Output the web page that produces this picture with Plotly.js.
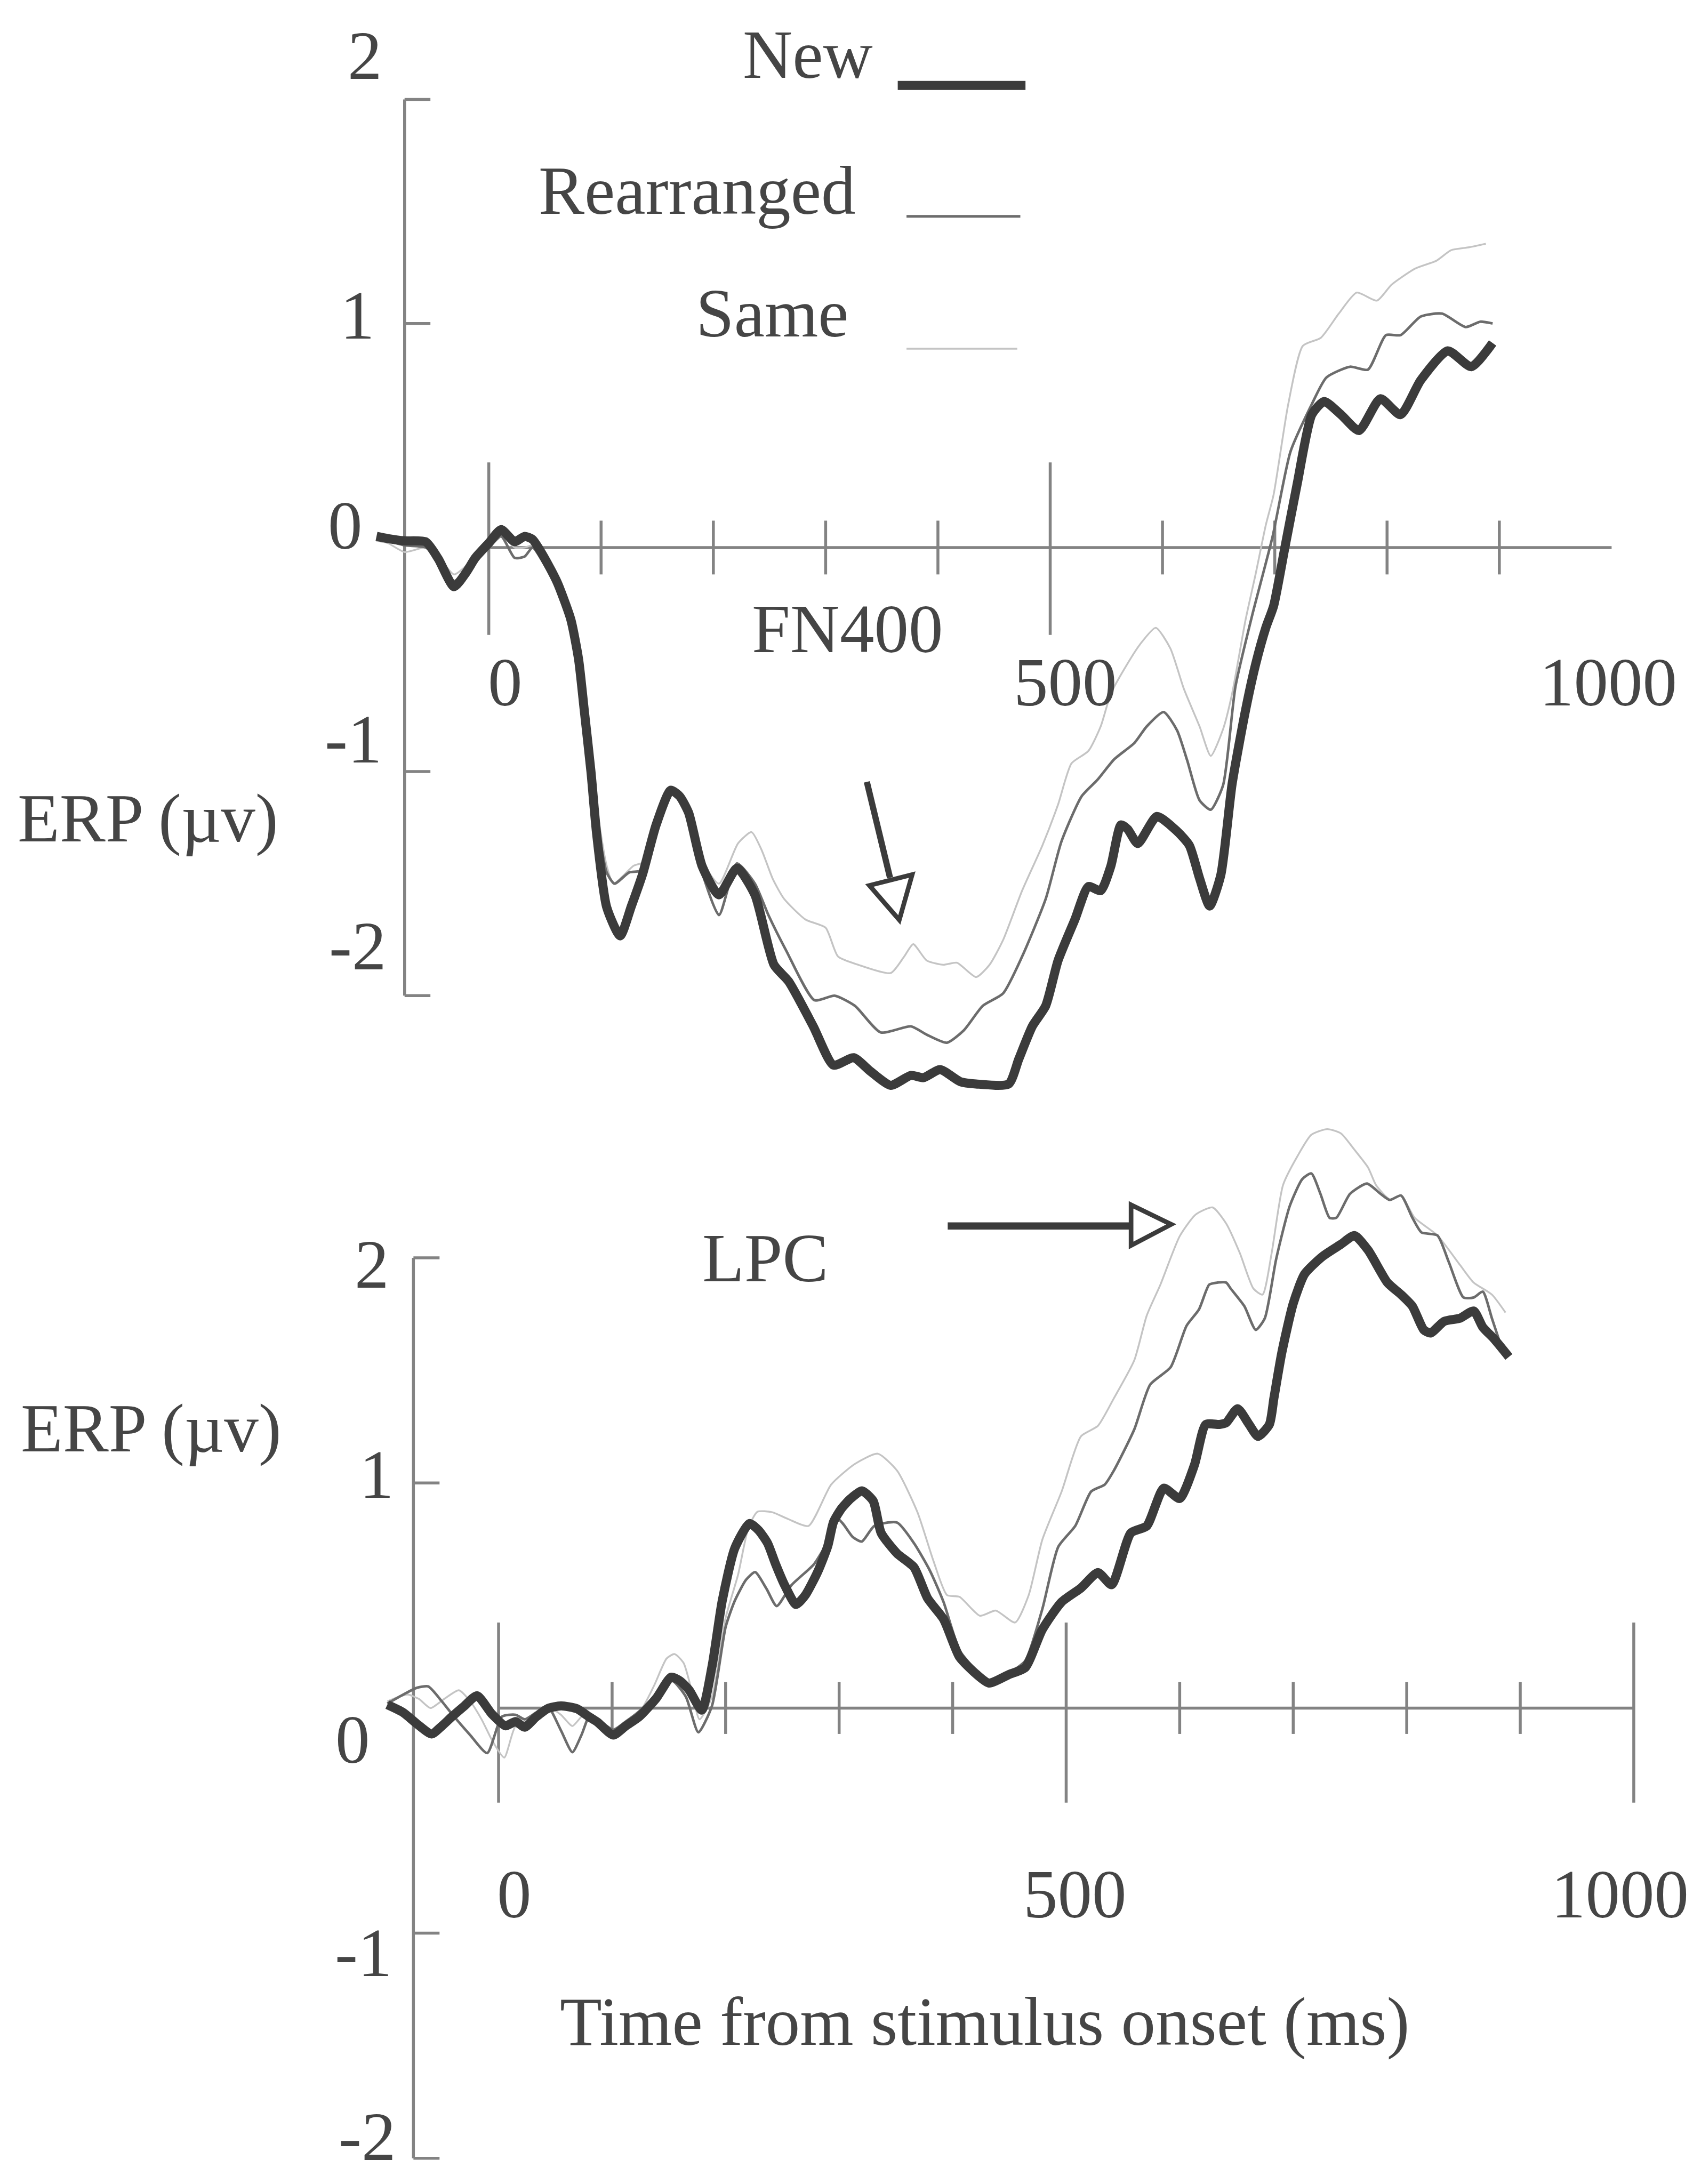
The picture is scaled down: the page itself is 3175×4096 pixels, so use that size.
<!DOCTYPE html>
<html>
<head>
<meta charset="utf-8">
<script src="https://cdn.plot.ly/plotly-3.0.1.min.js"></script>
<style>
  html, body { margin: 0; padding: 0; background: #ffffff; }
  #chart { width: 3175px; height: 4096px; }
</style>
</head>
<body>
<div id="chart"></div>
<script>
// ---------------- DATA (time in ms, ERP in microvolts) ----------------
// Upper panel (FN400)
const topNewT  = [-100,-90,-75,-56,-45,-31,-20,-12,0,11,23,32,39,50,61,73,80,85,91,96,105,117,127,137,149,162,170,178,190,205,221,237,254,267,289,307,325,340,358,376,387,402,420,434,463,472,484,496,507,522,534,545,554,563,569,578,595,613,624,633,642,652,662,674,683,692,699,709,720,733,744,759,775,794,812,830,854,875,894];
const topNewV  = [0.05,0.04,0.03,0.025,-0.05,-0.175,-0.11,-0.046,0.02,0.08,0.026,0.05,0.036,-0.05,-0.156,-0.32,-0.5,-0.725,-1.0,-1.275,-1.605,-1.733,-1.6,-1.457,-1.238,-1.083,-1.11,-1.184,-1.422,-1.55,-1.431,-1.55,-1.862,-1.936,-2.137,-2.31,-2.277,-2.338,-2.40,-2.356,-2.366,-2.33,-2.384,-2.394,-2.394,-2.283,-2.137,-2.045,-1.843,-1.66,-1.513,-1.531,-1.422,-1.238,-1.257,-1.321,-1.20,-1.266,-1.33,-1.476,-1.60,-1.46,-1.055,-0.725,-0.52,-0.358,-0.26,0.0,0.285,0.593,0.652,0.593,0.522,0.664,0.593,0.747,0.878,0.807,0.913];

const topRearT = [-100,-90,-75,-56,-45,-31,-20,-12,0,11,23,32,39,50,61,73,85,96,105,112,125,137,149,162,178,190,205,221,237,249,265,290,308,326,349,376,390,408,423,440,458,475,496,510,528,542,557,575,586,601,613,622,633,643,654,665,680,698,714,733,746,767,783,799,812,830,849,870,883,894];
const topRearV = [0.04,0.03,0.01,0.0,-0.06,-0.15,-0.1,-0.05,0.0,0.05,-0.046,-0.04,0.0,-0.08,-0.18,-0.34,-0.72,-1.2,-1.45,-1.5,-1.45,-1.44,-1.238,-1.083,-1.2,-1.45,-1.64,-1.41,-1.5,-1.64,-1.8,-2.02,-2.0,-2.045,-2.164,-2.137,-2.174,-2.21,-2.155,-2.045,-1.99,-1.825,-1.568,-1.312,-1.11,-1.037,-0.945,-0.872,-0.798,-0.734,-0.816,-0.95,-1.128,-1.17,-1.06,-0.62,-0.30,0.048,0.428,0.64,0.759,0.807,0.794,0.948,0.948,1.031,1.044,0.984,1.008,1.0];

const topSameT = [-100,-90,-75,-56,-45,-31,-20,-12,0,11,23,32,39,50,61,73,85,96,105,111,129,140,149,162,178,190,205,222,234,243,253,263,282,300,311,329,358,370,378,390,405,417,434,446,458,475,493,507,519,534,545,554,566,580,594,607,619,633,643,654,662,674,683,692,699,712,725,741,757,773,791,804,825,844,857,873,888];
const topSameV = [0.03,0.02,-0.02,0.0,-0.04,-0.12,-0.08,-0.03,0.01,0.06,0.0,0.0,0.01,-0.07,-0.17,-0.33,-0.7,-1.15,-1.42,-1.5,-1.42,-1.4,-1.25,-1.09,-1.2,-1.4,-1.5,-1.32,-1.27,-1.35,-1.48,-1.568,-1.66,-1.697,-1.825,-1.862,-1.899,-1.825,-1.77,-1.843,-1.862,-1.853,-1.917,-1.862,-1.752,-1.531,-1.33,-1.147,-0.963,-0.908,-0.798,-0.652,-0.542,-0.432,-0.358,-0.45,-0.63,-0.798,-0.93,-0.81,-0.652,-0.322,-0.117,0.10,0.237,0.64,0.90,0.936,1.044,1.138,1.102,1.173,1.245,1.28,1.327,1.34,1.356];

// Lower panel (LPC)
const botNewT  = [-98,-84,-72,-59,-50,-41,-30,-19,-6,6,15,23,33,43,55,69,80,87,101,112,124,139,152,160,168,179,188,197,208,221,229,237,244,252,262,270,281,290,295,302,310,320,330,337,351,366,378,392,406,421,432,450,464,479,496,513,528,540,557,571,586,600,613,623,635,641,651,661,669,679,683,690,700,710,726,742,754,766,783,795,805,815,821,833,847,859,867,877,890];
const botNewV  = [0.015,-0.02,-0.07,-0.115,-0.08,-0.038,0.01,0.055,-0.026,-0.079,-0.06,-0.085,-0.04,-0.003,0.01,-0.003,-0.04,-0.062,-0.12,-0.08,-0.038,0.044,0.137,0.12,0.079,-0.009,0.184,0.476,0.709,0.82,0.79,0.732,0.64,0.546,0.46,0.5,0.604,0.72,0.826,0.886,0.93,0.965,0.92,0.778,0.687,0.625,0.487,0.395,0.227,0.15,0.111,0.15,0.18,0.349,0.471,0.533,0.602,0.548,0.778,0.809,0.977,0.931,1.08,1.26,1.26,1.268,1.33,1.261,1.207,1.26,1.377,1.58,1.797,1.928,2.007,2.06,2.099,2.034,1.89,1.837,1.785,1.68,1.666,1.718,1.732,1.764,1.692,1.64,1.56];

const botRearT = [-98,-84,-72,-62,-50,-41,-25,-10,3,15,23,33,43,55,65,73,81,90,101,112,124,139,153,165,176,188,200,208,218,226,236,245,258,278,290,299,304,312,320,331,351,366,380,392,406,421,432,450,464,479,493,508,522,534,542,560,574,592,606,617,626,633,641,645,657,667,675,685,697,708,716,724,732,738,750,765,777,785,795,805,813,827,837,850,859,867,875,883];
const botRearV = [0.02,0.06,0.09,0.096,0.03,-0.027,-0.12,-0.2,-0.038,-0.03,-0.05,-0.02,0.01,-0.1,-0.196,-0.12,-0.027,-0.06,-0.096,-0.06,-0.014,0.06,0.12,0.05,-0.108,0.01,0.36,0.476,0.57,0.604,0.53,0.453,0.546,0.64,0.74,0.84,0.815,0.76,0.74,0.809,0.824,0.732,0.61,0.471,0.257,0.165,0.119,0.157,0.21,0.44,0.716,0.809,0.962,0.993,1.055,1.238,1.437,1.514,1.698,1.771,1.881,1.89,1.89,1.863,1.785,1.68,1.732,1.995,2.231,2.35,2.375,2.284,2.178,2.178,2.284,2.33,2.284,2.257,2.277,2.178,2.113,2.1,1.982,1.824,1.824,1.85,1.732,1.61];

const botSameT = [-98,-88,-80,-70,-60,-48,-35,-25,-15,-5,5,15,30,45,55,65,75,85,101,124,137,148,155,163,170,177,188,200,211,220,228,241,255,273,293,314,334,351,369,383,395,406,424,438,455,467,479,496,513,528,542,560,571,583,600,614,629,641,653,665,673,681,691,704,716,730,742,754,766,773,785,795,807,827,847,859,875,887];
const botSameV = [0.03,0.05,0.06,0.04,0.0,0.04,0.079,0.03,-0.05,-0.15,-0.22,-0.08,-0.05,0.0,-0.03,-0.08,-0.03,-0.05,-0.1,-0.02,0.1,0.22,0.24,0.2,0.08,-0.05,0.05,0.4,0.593,0.8,0.872,0.87,0.84,0.809,0.993,1.085,1.13,1.055,0.87,0.655,0.502,0.494,0.41,0.433,0.38,0.502,0.748,0.962,1.207,1.254,1.376,1.545,1.744,1.881,2.096,2.192,2.224,2.152,2.021,1.863,1.837,2.021,2.323,2.454,2.547,2.572,2.553,2.48,2.401,2.323,2.26,2.277,2.178,2.1,1.968,1.89,1.837,1.757];

// Ticks and labels
const xTickVals  = [0, 500, 1000];
const xTickText  = ['0', '500', '1000'];
const xMinorVals = [100, 200, 300, 400, 600, 700, 800, 900];
const yTickVals  = [2, 1, 0, -1, -2];
const yTickText  = ['2', '1', '0', '-1', '-2'];
const seriesNames = ['New', 'Rearranged', 'Same'];
const yTitle = 'ERP (\u00b5v)';
const xTitle = 'Time from stimulus onset (ms)';
const topMarker = 'FN400';
const botMarker = 'LPC';

// ---------------- LAYOUT / STYLE ----------------
const REF_W = 3287, REF_H = 4240;       // reference pixel frame
const W = 3175, H = 4096;
const K = W / REF_W;                   // ~0.966
const SPLIT = 2140;                    // reference y where panels meet
const CAL = {                          // reference-pixel calibration of each panel
  top: { x0: 949, sx: 2.18,  y0: 1063, sy: 435 },
  bot: { x0: 968, sx: 2.204, y0: 3316, sy: 437 }
};
const FONT = 'Liberation Serif, Times New Roman, serif';
const FS = 129;
const TXT = '#454545';
const AXC = '#838383';
const AXW = 5.5;
const Y_AXIS_AT = -75;       // ms position of the vertical µV axis
const Y_TICK_LEN = 23;       // ms
const colors = ['#3b3b3b', '#6c6c6c', '#c4c4c4'];
const widths = [17, 4.8, 3.4];

const px = X => X / REF_W;
const py = Y => 1 - Y / REF_H;

function rangeX(c) { return [(0 - c.x0) / c.sx, (REF_W - c.x0) / c.sx]; }

const layout = {
  width: W, height: H, autosize: false,
  margin: { l: 0, r: 0, t: 0, b: 0, pad: 0 },
  paper_bgcolor: '#ffffff', plot_bgcolor: 'rgba(0,0,0,0)',
  showlegend: false,
  xaxis:  { domain: [0, 1], range: rangeX(CAL.top), visible: false, anchor: 'y', fixedrange: true },
  yaxis:  { domain: [1 - SPLIT / REF_H, 1], range: [(CAL.top.y0 - SPLIT) / CAL.top.sy, CAL.top.y0 / CAL.top.sy], visible: false, anchor: 'x', fixedrange: true },
  xaxis2: { domain: [0, 1], range: rangeX(CAL.bot), visible: false, anchor: 'y2', fixedrange: true },
  yaxis2: { domain: [0, 1 - SPLIT / REF_H], range: [(CAL.bot.y0 - REF_H) / CAL.bot.sy, (CAL.bot.y0 - SPLIT) / CAL.bot.sy], visible: false, anchor: 'x2', fixedrange: true },
  shapes: [], annotations: []
};

// ---- axis decorations built from tick arrays ----
function axisShapes(xr, yr, verticals, vUp, vDown, minorHalf) {
  const ln = { color: AXC, width: AXW };
  const out = [];
  const add = (x0, y0, x1, y1) => out.push({ type: 'line', xref: xr, yref: yr, x0, y0, x1, y1, line: ln, layer: 'below' });
  add(Y_AXIS_AT, Math.min(...yTickVals), Y_AXIS_AT, Math.max(...yTickVals));
  yTickVals.forEach(v => { if (v !== 0) add(Y_AXIS_AT, v, Y_AXIS_AT + Y_TICK_LEN, v); });
  add(xTickVals[0], 0, xTickVals[xTickVals.length - 1], 0);
  xMinorVals.forEach(t => add(t, -minorHalf, t, minorHalf));
  verticals.forEach(t => add(t, -vDown, t, vUp));
  return out;
}
layout.shapes.push(...axisShapes('x', 'y', [0, 500], 0.38, 0.39, 0.12));
layout.shapes.push(...axisShapes('x2', 'y2', [0, 500, 1000], 0.38, 0.42, 0.115));

// ---- tick labels ----
function txt(o) {
  return Object.assign({ showarrow: false, font: { family: FONT, size: FS, color: TXT } }, o);
}
const yLabGapTop = [41, 56, 79, 42, 34], yLabOffTop = [-85, -16, -43, -63, -96];
const yLabGapBot = [45, 36, 82, 40, 32], yLabOffBot = [13, -16, 61, 38, -42];
yTickVals.forEach((v, i) => {
  layout.annotations.push(txt({ xref: 'x', yref: 'y', x: Y_AXIS_AT, y: v, text: yTickText[i], xanchor: 'right', yanchor: 'middle', xshift: -yLabGapTop[i] * K, yshift: -yLabOffTop[i] * K }));
  layout.annotations.push(txt({ xref: 'x2', yref: 'y2', x: Y_AXIS_AT, y: v, text: yTickText[i], xanchor: 'right', yanchor: 'middle', xshift: -yLabGapBot[i] * K, yshift: -yLabOffBot[i] * K }));
});
const xLabShiftTop = [32, 29, -7], xLabShiftBot = [31, 17, -27];
xTickVals.forEach((t, i) => {
  layout.annotations.push(txt({ xref: 'x', yref: 'y', x: t, y: -0.6, text: xTickText[i], xanchor: 'center', yanchor: 'middle', xshift: xLabShiftTop[i] * K }));
  layout.annotations.push(txt({ xref: 'x2', yref: 'y2', x: t, y: -0.826, text: xTickText[i], xanchor: 'center', yanchor: 'middle', xshift: xLabShiftBot[i] * K }));
});

// ---- titles & labels ----
layout.annotations.push(txt({ xref: 'paper', yref: 'paper', x: px(287), y: py(1588), text: yTitle, xanchor: 'center', yanchor: 'middle' }));
layout.annotations.push(txt({ xref: 'paper', yref: 'paper', x: px(294), y: py(2773), text: yTitle, xanchor: 'center', yanchor: 'middle' }));
layout.annotations.push(txt({ xref: 'paper', yref: 'paper', x: px(1912), y: py(3925), text: xTitle, xanchor: 'center', yanchor: 'middle' }));
layout.annotations.push(txt({ xref: 'paper', yref: 'paper', x: px(1645), y: py(1221), text: topMarker, xanchor: 'center', yanchor: 'middle' }));
layout.annotations.push(txt({ xref: 'paper', yref: 'paper', x: px(1486), y: py(2442), text: botMarker, xanchor: 'center', yanchor: 'middle' }));

// ---- legend (manual, text to the left of a line sample) ----
const legText = [{ r: 1697, y: 106 }, { r: 1663, y: 370 }, { r: 1650, y: 608 }];
const legLine = [{ a: 1743, b: 1991, y: 166 }, { a: 1760, b: 1981, y: 420 }, { a: 1760, b: 1975, y: 677 }];
seriesNames.forEach((n, i) => {
  layout.annotations.push(txt({ xref: 'paper', yref: 'paper', x: px(legText[i].r), y: py(legText[i].y), text: n, xanchor: 'right', yanchor: 'middle' }));
  layout.shapes.push({ type: 'line', xref: 'paper', yref: 'paper', x0: px(legLine[i].a), x1: px(legLine[i].b), y0: py(legLine[i].y), y1: py(legLine[i].y), line: { color: colors[i], width: widths[i] } });
});

// ---- open-headed arrows ----
function openArrow(x0, y0, x1, y1, tri, lw) {
  layout.shapes.push({ type: 'line', xref: 'paper', yref: 'paper', x0: px(x0), y0: py(y0), x1: px(x1), y1: py(y1), line: { color: '#3b3b3b', width: lw * K } });
  const path = 'M ' + tri.map(p => px(p[0]) + ',' + py(p[1])).join(' L ') + ' Z';
  layout.shapes.push({ type: 'path', xref: 'paper', yref: 'paper', path, fillcolor: '#ffffff', line: { color: '#3b3b3b', width: 9 * K } });
}
openArrow(1683, 1518, 1728, 1704, [[1688, 1719], [1771, 1698], [1746, 1786]], 12);
openArrow(1840, 2380, 2196, 2380, [[2196, 2339], [2274, 2377], [2196, 2418]], 14);

// ---------------- TRACES ----------------
function tr(t, v, i, xa, ya) {
  return { x: t, y: v, xaxis: xa, yaxis: ya, type: 'scatter', mode: 'lines', name: seriesNames[i],
           line: { color: colors[i], width: widths[i], shape: 'spline', smoothing: 0.6 }, hoverinfo: 'skip', showlegend: false };
}
const data = [
  tr(topSameT, topSameV, 2, 'x', 'y'),
  tr(topRearT, topRearV, 1, 'x', 'y'),
  tr(topNewT,  topNewV,  0, 'x', 'y'),
  tr(botSameT, botSameV, 2, 'x2', 'y2'),
  tr(botRearT, botRearV, 1, 'x2', 'y2'),
  tr(botNewT,  botNewV,  0, 'x2', 'y2')
];

Plotly.newPlot('chart', data, layout, { staticPlot: true, displayModeBar: false });
</script>
</body>
</html>
